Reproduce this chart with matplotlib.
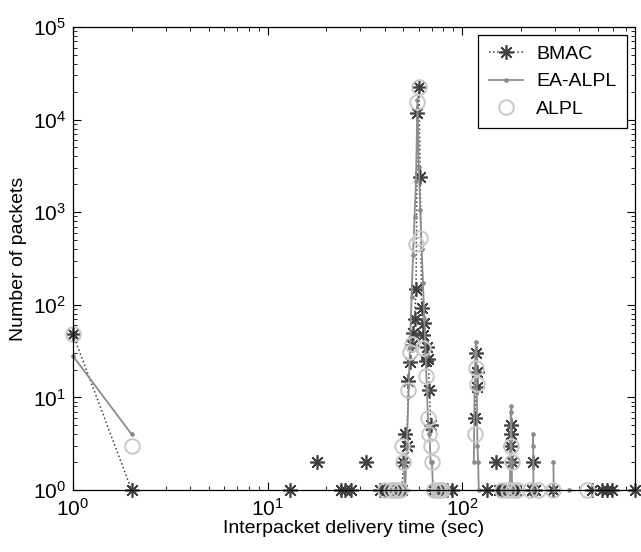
import numpy as np
import matplotlib
matplotlib.use("Agg")
import matplotlib.pyplot as plt

plt.rcParams['font.family'] = ['Liberation Sans', 'DejaVu Sans']

# histogram of interpacket delivery time (1 s bins), zero bins left out
bmac_t = [1, 2, 13, 18, 24, 25, 27, 32, 38, 40, 41, 42, 43, 44, 45, 46, 47, 48, 49,
          50, 51, 52, 53, 54, 55, 56, 57, 58, 59, 60, 61, 62, 63, 64, 65, 66, 67, 68, 69,
          71, 72, 74, 76, 79, 84, 89, 117, 118, 119, 120, 134, 150, 155, 160, 165, 172,
          177, 178, 179, 180, 185, 190, 229, 232, 237, 294, 466, 524, 556, 590, 775]
bmac_n = [48, 1, 1, 2, 1, 1, 1, 2, 1, 1, 1, 1, 1, 1, 1, 1, 1, 1, 1,
          2, 4, 3, 15, 24, 37, 49, 71, 147, 11700, 22600, 2420, 92, 47, 63, 25, 35, 26, 12, 5,
          1, 1, 1, 1, 1, 1, 1, 6, 30, 19, 13, 1, 2, 1, 1, 1, 1,
          3, 5, 4, 2, 1, 1, 1, 2, 1, 1, 1, 1, 1, 1, 1]

ea_t = [1, 2, 42, 45, 47, 50, 51, 52, 53, 54, 55, 56, 57, 58, 59, 60, 61, 62, 63, 64,
        65, 66, 67, 68, 69, 70, 71, 74, 78, 82, 115, 116, 117, 118, 119, 120, 121, 122,
        163, 170, 176, 177, 178, 179, 180, 181, 226, 231, 232, 233, 295, 296, 355]
ea_n = [28, 4, 1, 1, 1, 2, 1, 3, 10, 35, 120, 345, 895, 2190, 16300, 3050, 1057, 398, 173, 70,
        28, 12, 5, 4, 2, 2, 1, 1, 1, 1, 2, 12, 30, 40, 18, 3, 2, 1,
        1, 1, 1, 2, 7, 8, 2, 1, 1, 3, 4, 1, 2, 1, 1]

alpl_t = [1, 2, 40, 43, 45, 46, 48, 49, 50, 53, 54, 55, 58, 59, 60, 61, 63, 65, 67, 68,
          69, 70, 72, 75, 77, 79, 117, 118, 119, 160, 172, 178, 180, 183, 192, 224, 246,
          294, 439]
alpl_n = [48, 3, 1, 1, 1, 1, 1, 3, 2, 12, 31, 38, 450, 15600, 22600, 520, 34, 17, 6, 4,
          3, 2, 1, 1, 1, 1, 4, 21, 14, 1, 1, 3, 2, 1, 1, 1, 1,
          1, 1]


def split_runs(t, n):
    # empty bins break the line (log of zero)
    t = np.asarray(t, float)
    n = np.asarray(n, float)
    gaps = np.where(np.diff(t) > 1)[0] + 1
    return np.insert(t, gaps, np.nan), np.insert(n, gaps, np.nan)


fig = plt.figure(figsize=(6.41, 5.52), dpi=100)
ax = fig.add_axes([73 / 641, 1 - 490 / 552, 562 / 641, 463 / 552])

star = (8, 2, 0)
x, y = split_runs(bmac_t, bmac_n)
ax.plot(x, y, linestyle=':', color='#404040', lw=1.1, marker=star, ms=10.5,
        mew=1.2, label='BMAC', clip_on=False)
x, y = split_runs(ea_t, ea_n)
ax.plot(x, y, '-', color='#8c8c8c', lw=1.3, marker='o', ms=3.4, mew=0,
        label='EA-ALPL', clip_on=False)
ax.plot(alpl_t, alpl_n, linestyle='none', marker='o', ms=10.5, mfc='none',
        mec='#c8c8c8', mew=1.4, label='ALPL', clip_on=False)

ax.set_xscale('log')
ax.set_yscale('log')
ax.set_xlim(1, 775)
ax.set_ylim(1, 1e5)

ax.tick_params(which='both', direction='in', top=True, right=True, labelsize=15)
ax.tick_params(which='major', length=6, width=0.8)
ax.tick_params(which='minor', length=3, width=0.6)
ax.tick_params(axis='x', pad=6)
ax.tick_params(axis='y', pad=5)
for s in ax.spines.values():
    s.set_linewidth(0.9)

ax.set_xlabel('Interpacket delivery time (sec)', fontsize=14, labelpad=0)
ax.set_ylabel('Number of packets', fontsize=14, labelpad=4)

leg = ax.legend(loc='upper right', fontsize=14, fancybox=False, framealpha=1,
                edgecolor='black', handlelength=1.75, borderpad=0.55,
                labelspacing=0.5, borderaxespad=0.4, handletextpad=0.7)
leg.get_frame().set_linewidth(0.9)

fig.savefig('out.png', dpi=100)
